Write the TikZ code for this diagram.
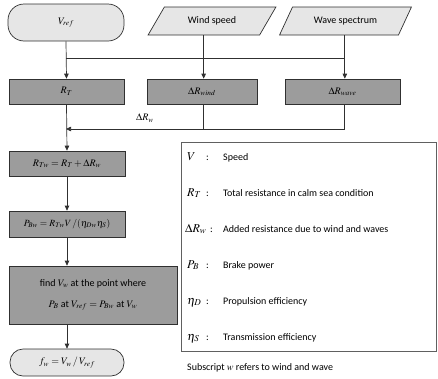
\documentclass[tikz,border=0pt]{standalone}
\usepackage{mathptmx}
\usepackage{fontspec}
\setmainfont{Carlito}
\usetikzlibrary{shapes.geometric,arrows.meta,calc}
\definecolor{boxgray}{HTML}{9C9C9C}
\definecolor{termgray}{HTML}{E6E6E6}
\definecolor{linegray}{HTML}{303030}
\definecolor{framegray}{HTML}{606060}
\begin{document}
\begin{tikzpicture}[x=1pt,y=-1pt,
  every node/.style={font=\fontsize{10}{12}\selectfont},
  procbox/.style={draw=linegray, fill=boxgray, inner sep=0pt, minimum height=25pt, line width=0.7pt},
  termbox/.style={draw=linegray, fill=termgray, inner sep=0pt, line width=0.7pt},
  iobox/.style={trapezium, trapezium left angle=46, trapezium right angle=134,
    trapezium stretches=true, draw=linegray, fill=termgray, inner sep=0pt,
    minimum height=28pt, line width=0.7pt},
  flow/.style={draw=linegray, line width=0.7pt},
  arr/.style={flow, -{Triangle[length=5pt,width=4.5pt]}},
  legsym/.style={anchor=base west, font=\fontsize{12}{14}\selectfont, inner sep=0pt},
  legcol/.style={anchor=base west, inner sep=0pt},
  legtxt/.style={anchor=base west, inner sep=0pt},
]
\useasboundingbox (0,0) rectangle (438,378);

% top row
\node[termbox, minimum width=116pt, minimum height=37pt, rounded corners=16pt] (vref) at (66,22.5) {$V_{ref}$};
\node[iobox, minimum width=128pt] (wind) at (212,21) {Wind speed};
\node[iobox, minimum width=133pt] (wave) at (345.5,21) {Wave spectrum};

\coordinate (windbot) at ($(wind.bottom left corner)!0.5!(wind.bottom right corner)$);
\coordinate (wavebot) at ($(wave.bottom left corner)!0.55!(wave.bottom right corner)$);

% second row
\node[procbox, minimum width=115pt] (rt) at (66.5,91.5) {$R_T$};
\node[procbox, minimum width=110pt] (dwind) at (202,91.5) {$\Delta R_{wind}$};
\node[procbox, minimum width=115pt] (dwave) at (342.5,91.5) {$\Delta R_{wave}$};

% column
\node[procbox, minimum width=116pt] (rtw) at (67,163.5) {$R_{Tw} = R_T + \Delta R_w$};
\node[procbox, minimum width=116pt, minimum height=26pt, font=\fontsize{9.5}{11}\selectfont] (pbw) at (67,224) {$P_{Bw} = R_{Tw}V\,/(\eta_{Dw}\eta_S)$};
\node[procbox, minimum width=168pt, minimum height=58pt, align=center] (big) at (93,295)
  {find $V_w$ at the point where\\[9pt] $P_B$ at $V_{ref} = P_{Bw}$ at $V_w$};
\node[termbox, minimum width=114pt, minimum height=27pt, rounded corners=13pt] (fw) at (67,362.5) {$f_w = V_w\,/\,V_{ref}$};

% connectors
\coordinate (j1) at (66,58);
\coordinate (j2) at (66,129);
\draw[arr] (vref.south) -- (rt.north);
\draw[flow] (j1) -- (j1 -| wavebot);
\draw[arr] (windbot) -- (windbot |- dwind.north);
\draw[arr] (wavebot) -- (wavebot |- dwave.north);
\draw[flow] (windbot |- dwind.south) -- (windbot |- j2);
\draw[arr] (wavebot |- dwave.south) -- (wavebot |- j2) -- (j2);
\node[inner sep=0pt] (dlab) at (145,118) {$\Delta R_w$};
\draw[arr] (rt.south) -- (rtw.north);
\draw[arr] (rtw.south) -- (pbw.north);
\draw[arr] (pbw.south) -- (pbw.south |- big.north);
\draw[arr] (pbw.south |- big.south) -- (fw.north);

% legend
\node[draw=framegray, line width=0.7pt, minimum width=255pt, minimum height=209pt, inner sep=0pt] (legend) at (308.5,246.5) {};
\node[legsym] (s1) at (187,160) {$V$};
\node[legcol] (c1) at (206,160) {:};
\node[legtxt] (t1) at (223,160) {Speed};
\node[legsym] (s2) at (187,196) {$R_T$};
\node[legcol] (c2) at (206,196) {:};
\node[legtxt] (t2) at (223,196) {Total resistance in calm sea condition};
\node[legsym] (s3) at (185,232) {$\Delta R_w$};
\node[legcol] (c3) at (210,232) {:};
\node[legtxt] (t3) at (223,232) {Added resistance due to wind and waves};
\node[legsym] (s4) at (187,268) {$P_B$};
\node[legcol] (c4) at (206,268) {:};
\node[legtxt] (t4) at (223,268) {Brake power};
\node[legsym] (s5) at (187,304) {$\eta_D$};
\node[legcol] (c5) at (206,304) {:};
\node[legtxt] (t5) at (223,304) {Propulsion efficiency};
\node[legsym] (s6) at (187,340) {$\eta_S$};
\node[legcol] (c6) at (206,340) {:};
\node[legtxt] (t6) at (223,340) {Transmission efficiency};
\node[legtxt] (sub) at (187,370) {Subscript $w$ refers to wind and wave};
\end{tikzpicture}
\end{document}
